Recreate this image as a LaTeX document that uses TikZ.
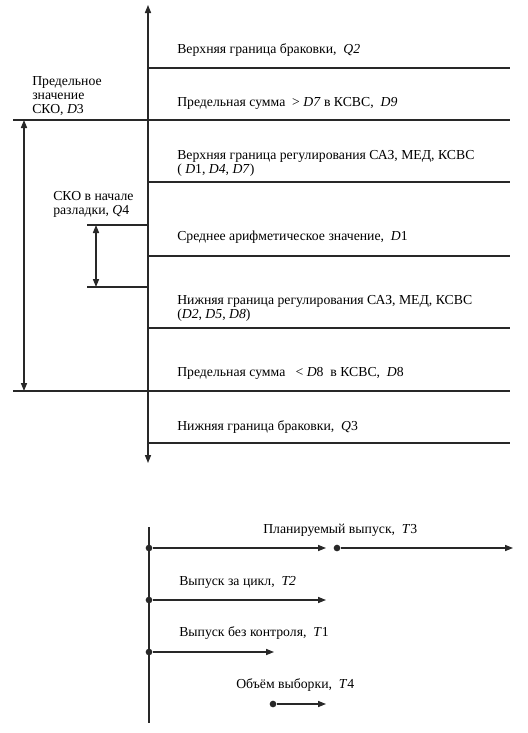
\documentclass[tikz,border=0pt]{standalone}
\usepackage{fontspec}
\setmainfont{Liberation Serif}
\usetikzlibrary{arrows.meta,positioning}
\definecolor{lineGray}{RGB}{40,40,40}
\tikzset{
  lbl/.style={anchor=west, inner sep=0pt, font=\fontsize{10.3}{10.6}\selectfont, align=left},
  bound/.style={lineGray, line width=0.85pt},
  tip/.style={-{Triangle[length=6pt,width=4.6pt]}},
  dtip/.style={{Triangle[length=6pt,width=4.6pt]}-{Triangle[length=6pt,width=4.6pt]}},
  dot/.style={circle, fill=lineGray, inner sep=0pt, minimum size=5pt}
}

\begin{document}
\begin{tikzpicture}[x=0.75pt,y=-0.75pt]
\useasboundingbox (0,0) rectangle (528,733);
% main axis
\coordinate (axtop) at (148,5);
\coordinate (axbot) at (148,463);
\draw[bound, dtip] (axbot) -- (axtop);
% boundaries
\foreach \n/\yy/\xa in {q2/68/148, d3/120/13, up/182/148, low4/256/148,
    dn/328/148, d8/391/13, q3/443/148}{
  \coordinate (\n-l) at (\xa,\yy);
  \coordinate (\n-r) at (510,\yy);
  \draw[bound] (\n-l) -- (\n-r);
}
\coordinate (q4top-l) at (87,225);
\coordinate (q4top-r) at (148,225);
\coordinate (q4bot-l) at (87,287);
\coordinate (q4bot-r) at (148,287);
\draw[bound] (q4top-l) -- (q4top-r);
\draw[bound] (q4bot-l) -- (q4bot-r);
% spans
\coordinate (d3a) at (24,120);
\coordinate (d3b) at (24,391);
\draw[bound, dtip] (d3a) -- (d3b);
\coordinate (q4a) at (96,225);
\coordinate (q4b) at (96,287);
\draw[bound, dtip] (q4a) -- (q4b);
% labels
\node[lbl] (q2) at (177,50) {Верхняя граница браковки,\ \ \textit{Q2}};
\node[lbl] (d9) at (177,103) {Предельная сумма\ \ > \textit{D7} в КСВС,\ \ \textit{D9}};
\node[lbl] (d3) at (32,96) {Предельное\\значение\\СКО, \textit{D}3};
\node[lbl] (upreg) at (177,163) {Верхняя граница регулирования САЗ, МЕД, КСВС\\( \textit{D}1, \textit{D4}, \textit{D7})};
\node[lbl] (q4) at (53,204) {СКО в начале\\разладки, \textit{Q}4};
\node[lbl] (d1) at (177,237) {Среднее арифметическое значение,\ \ \textit{D}1};
\node[lbl] (dnreg) at (177,308) {Нижняя граница регулирования САЗ, МЕД, КСВС\\(\textit{D2}, \textit{D5}, \textit{D8})};
\node[lbl] (d8) at (177,373) {Предельная сумма\ \ \ < \textit{D}8\ \ в КСВС,\ \ \textit{D}8};
\node[lbl] (q3) at (177,427) {Нижняя граница браковки,\ \ \textit{Q}3};

% release time line
\coordinate (ttop) at (149,527);
\coordinate (tbot) at (149,723);
\draw[bound] (ttop) -- (tbot);
\node[dot] (t3a) at (149,548) {};
\coordinate (t3ae) at (326,548);
\node[dot] (t3b) at (337,548) {};
\coordinate (t3be) at (513,548);
\draw[bound, tip] (t3a) -- (t3ae);
\draw[bound, tip] (t3b) -- (t3be);
\node[lbl] (t3) at (263,530) {Планируемый выпуск,\ \ \textit{T}3};
\node[dot] (t2a) at (149,600) {};
\coordinate (t2e) at (326,600);
\draw[bound, tip] (t2a) -- (t2e);
\node[lbl] (t2) at (179,582) {Выпуск за цикл,\ \ \textit{T2}};
\node[dot] (t1a) at (149,652) {};
\coordinate (t1e) at (274,652);
\draw[bound, tip] (t1a) -- (t1e);
\node[lbl] (t1) at (179,633) {Выпуск без контроля,\ \ \textit{T}1};
\node[dot] (t4a) at (273,704) {};
\coordinate (t4e) at (326,704);
\draw[bound, tip] (t4a) -- (t4e);
\node[lbl] (t4) at (236,685) {Объём выборки,\ \ \textit{T}4};
\end{tikzpicture}
\end{document}
